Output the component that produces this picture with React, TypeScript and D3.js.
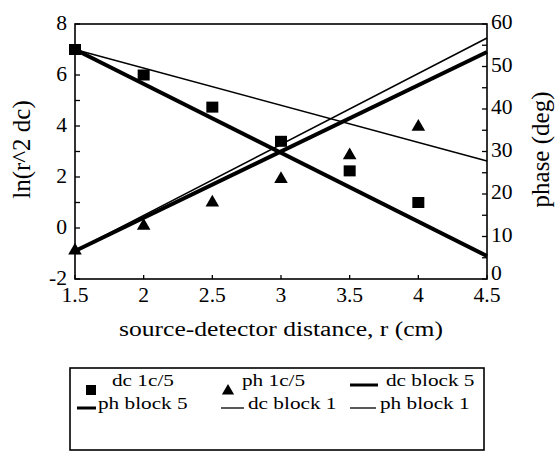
import React from "react";
import * as d3 from "d3";

const xTicks = [1.5, 2, 2.5, 3, 3.5, 4, 4.5];
const xTickLabels = ["1.5", "2", "2.5", "3", "3.5", "4", "4.5"];
const leftTicks = [-2, 0, 2, 4, 6, 8];
const rightTicks = [0, 10, 20, 30, 40, 50, 60];
const distances = [1.5, 2, 2.5, 3, 3.5, 4];
const dcPoints = [7.0, 6.0, 4.74, 3.4, 2.24, 1.0];
const phPoints = [6.7, 12.5, 18.0, 23.5, 29.1, 35.8];
const lineX = [1.5, 4.5];
const dcBlock5 = [7.0, -1.1];
const dcBlock1 = [7.0, 2.63];
const phBlock5 = [6.6, 53.4];
const phBlock1 = [6.6, 56.7];

const FONT = "'Liberation Serif', 'Times New Roman', serif";

export default function App() {
  const W = 555, H = 453;
  const L = 75, R = 487, T = 24, B = 279;
  const x = d3.scaleLinear().domain([1.5, 4.5]).range([L, R]);
  const yL = d3.scaleLinear().domain([-2, 8]).range([B, T]);
  const yR = d3.scaleLinear().domain([0, 60]).range([B, T]);

  const lineL = d3.line<[number, number]>().x(d => x(d[0])).y(d => yL(d[1]));
  const lineR = d3.line<[number, number]>().x(d => x(d[0])).y(d => yR(d[1]));
  const pts = (ys: number[]) => lineX.map((v, i) => [v, ys[i]] as [number, number]);

  const leftMinor = d3.range(-2, 8.001, 1);
  const rightMinor = d3.range(0, 60.001, 5);
  const sq = 12;
  const tri = d3.symbol().type(d3.symbolTriangle).size(80)();

  return (
    <svg width={W} height={H} style={{ position: "absolute", left: 0, top: 0, background: "#fff" }}
      fontFamily={FONT}>
      <rect x={0} y={0} width={W} height={H} fill="#fff" />
      {/* frame */}
      <rect x={L} y={T} width={R - L} height={B - T} fill="none" stroke="#000" strokeWidth={1.6} />
      {/* ticks */}
      {leftMinor.map(v => (
        <line key={"lt" + v} x1={L} x2={L + 5} y1={yL(v)} y2={yL(v)} stroke="#000" strokeWidth={1.3} />
      ))}
      {rightMinor.map(v => (
        <line key={"rt" + v} x1={R - 5} x2={R} y1={yR(v)} y2={yR(v)} stroke="#000" strokeWidth={1.3} />
      ))}
      {xTicks.map(v => (
        <line key={"xt" + v} x1={x(v)} x2={x(v)} y1={B} y2={B - 4} stroke="#000" strokeWidth={1.3} />
      ))}
      {/* tick labels */}
      {leftTicks.map(v => (
        <text key={"ll" + v} transform={`translate(${L - 8},${yL(v) + 5.5}) scale(1.08,1)`} fontSize={20} textAnchor="end">
          {v}
        </text>
      ))}
      {rightTicks.map(v => (
        <text key={"rl" + v} transform={`translate(${R + 4},${yR(v) + (v === 0 ? 1 : 5)}) scale(1.08,1)`} fontSize={20} textAnchor="start">
          {v}
        </text>
      ))}
      {xTicks.map((v, i) => (
        <text key={"xl" + v} transform={`translate(${x(v)},${302}) scale(1.08,1)`} fontSize={20} textAnchor="middle">
          {xTickLabels[i]}
        </text>
      ))}
      {/* axis titles */}
      <text transform={`translate(${x(3)},336) scale(1.28,1)`} fontSize={20} textAnchor="middle">
        source-detector distance, r (cm)
      </text>
      <text transform={`translate(30,${(T + B) / 2 - 2}) rotate(-90)`} fontSize={25} textAnchor="middle">
        ln(r^2 dc)
      </text>
      <text transform={`translate(549,${(T + B) / 2 - 2}) rotate(-90)`} fontSize={25} textAnchor="middle">
        phase (deg)
      </text>
      {/* lines */}
      <path d={lineL(pts(dcBlock1)) || ""} fill="none" stroke="#000" strokeWidth={1.5} />
      <path d={lineR(pts(phBlock1)) || ""} fill="none" stroke="#000" strokeWidth={1.5} />
      <path d={lineL(pts(dcBlock5)) || ""} fill="none" stroke="#000" strokeWidth={4} />
      <path d={lineR(pts(phBlock5)) || ""} fill="none" stroke="#000" strokeWidth={4} />
      {/* markers */}
      {distances.map((d, i) => (
        <rect key={"sq" + i} x={x(d) - sq / 2} y={yL(dcPoints[i]) - sq / 2 + 0.5} width={sq} height={sq - 1} fill="#000" />
      ))}
      {distances.map((d, i) => (
        <path key={"tr" + i} d={tri || ""} transform={`translate(${x(d)},${yR(phPoints[i])})`} fill="#000" />
      ))}
      {/* legend */}
      <rect x={70} y={368} width={414} height={82} fill="none" stroke="#000" strokeWidth={1.6} />
      <rect x={86} y={385} width={10} height={10} fill="#000" />
      <text transform="translate(112,386) scale(1.25,1)" fontSize={17}>dc 1c/5</text>
      <path d={tri || ""} transform="translate(228,391) scale(0.9)" fill="#000" />
      <text transform="translate(242,386) scale(1.25,1)" fontSize={17}>ph 1c/5</text>
      <line x1={350} x2={378} y1={385} y2={385} stroke="#000" strokeWidth={3} />
      <text transform="translate(386,386) scale(1.25,1)" fontSize={17}>dc block 5</text>
      <line x1={77} x2={96} y1={408} y2={408} stroke="#000" strokeWidth={3} />
      <text transform="translate(98,409) scale(1.25,1)" fontSize={17}>ph block 5</text>
      <line x1={221} x2={244} y1={408} y2={408} stroke="#000" strokeWidth={1.3} />
      <text transform="translate(248,409) scale(1.25,1)" fontSize={17}>dc block 1</text>
      <line x1={350} x2={376} y1={408} y2={408} stroke="#000" strokeWidth={1.3} />
      <text transform="translate(380,409) scale(1.25,1)" fontSize={17}>ph block 1</text>
    </svg>
  );
}
